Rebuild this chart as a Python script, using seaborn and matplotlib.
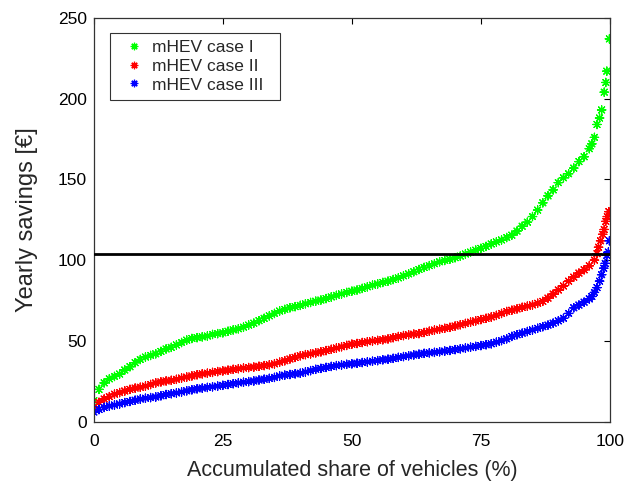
import matplotlib
matplotlib.use("Agg")
import matplotlib.pyplot as plt
import seaborn as sns
import pandas as pd

# ---- data ----
x_case1 = list(range(0, 97)) + [96.5, 97.0, 97.5, 98.0, 98.4, 98.9, 99.2, 99.4, 99.9]
y_case1 = [13, 20, 24, 26.5, 28, 29.5, 32, 34, 36.5, 38.5,
           40, 41, 42, 43.5, 45, 46, 47.5, 49, 50.5, 51.5,
           52, 52.5, 53, 54, 54.5, 55, 56, 56.8, 57.5, 58.5,
           59.8, 61, 62.5, 64, 65.5, 67, 68.5, 69.5, 70.5, 71.2,
           72, 73, 73.8, 74.6, 75.3, 76.2, 77.2, 78.2, 79.1, 80,
           80.8, 81.5, 82.5, 83.5, 84.5, 85.3, 86.2, 87, 88, 89,
           90.3, 91.5, 92.8, 94.2, 95.5, 96.6, 97.8, 99, 99.8, 100.6,
           101.5, 102.5, 103.8, 105, 106.2, 107.3, 108.5, 110, 111.3, 112.5,
           114, 115.5, 118, 121, 123.5, 127, 131, 135.5, 139.8, 143.5,
           148, 151, 153.5, 157, 161, 164, 169,
           172, 176, 184, 188, 193, 204, 210, 217, 237]

x_case2 = list(range(0, 98)) + [97.5, 97.8, 98.2, 98.6, 98.9, 99.2, 99.5, 99.8]
y_case2 = [9, 12, 14, 15.5, 17, 18, 19, 20, 20.8, 21.3,
           22, 23, 24, 24.6, 25.2, 25.6, 26.2, 27, 27.6, 28.3,
           29, 29.6, 30, 30.5, 31, 31.4, 31.9, 32.4, 32.8, 33.2,
           33.5, 33.8, 34.3, 34.7, 35.2, 35.8, 36.8, 37.7, 38.8, 39.8,
           40.8, 41.5, 42, 42.6, 43.2, 44, 44.8, 45.6, 46.4, 47.2,
           48, 48.4, 49, 49.5, 50, 50.3, 50.7, 51.2, 52, 52.7,
           53.3, 53.8, 54.2, 54.5, 55.2, 56, 56.7, 57.2, 57.8, 58.4,
           59.2, 60, 60.8, 61.6, 62.4, 63.2, 64, 64.8, 65.8, 67,
           68.2, 69, 69.8, 70.8, 71.5, 72.3, 73.3, 74.5, 76.5, 79,
           81.5, 84, 87, 89.5, 92, 94, 96.5, 100,
           104, 108, 112, 116, 119, 124, 127, 130]

x_case3 = list(range(0, 97)) + [96.5, 97.0, 97.5, 98.0, 98.4, 98.8, 99.1, 99.4, 99.7, 99.9]
y_case3 = [6, 7.5, 8.8, 9.7, 10.3, 11, 11.8, 12.5, 13.3, 14,
           14.5, 14.9, 15.3, 16, 16.8, 17.3, 17.8, 18.4, 19.1, 19.7,
           20.3, 20.8, 21.2, 21.6, 22, 22.5, 23, 23.5, 24, 24.4,
           24.8, 25.2, 25.8, 26.3, 26.8, 27.4, 28.3, 28.8, 29.2, 29.6,
           30, 30.8, 31.6, 32.4, 33, 33.6, 34.2, 34.7, 35.1, 35.5,
           35.8, 36.2, 36.6, 37, 37.4, 37.8, 38.3, 38.7, 39.2, 39.8,
           40.3, 40.8, 41.3, 41.8, 42.3, 42.6, 42.9, 43.3, 43.7, 44.1,
           44.6, 45.1, 45.6, 46.1, 46.6, 47.1, 47.6, 48.2, 49.2, 50.2,
           51.3, 52.8, 53.8, 54.8, 55.8, 56.8, 57.8, 58.8, 59.8, 61,
           62.4, 64, 67, 70.5, 72.2, 74, 76,
           77.5, 80, 83, 87, 91, 95, 98, 103, 105, 112]

series_names = ["mHEV case I", "mHEV case II", "mHEV case III"]
series_colors = ["#00ff00", "#ff0000", "#0000ff"]
threshold = 104
x_ticks = [0, 25, 50, 75, 100]
y_ticks = [0, 50, 100, 150, 200, 250]

df = pd.concat([
    pd.DataFrame({"share": x_case1, "savings": y_case1, "case": series_names[0]}),
    pd.DataFrame({"share": x_case2, "savings": y_case2, "case": series_names[1]}),
    pd.DataFrame({"share": x_case3, "savings": y_case3, "case": series_names[2]}),
], ignore_index=True)

sns.set_style("white")
plt.rcParams["font.family"] = ["Liberation Sans", "DejaVu Sans"]

fig = plt.figure(figsize=(6.34, 4.83), dpi=100)
ax = fig.add_axes([0.148, 0.127, 0.814, 0.836])

sns.scatterplot(data=df, x="share", y="savings", hue="case",
                palette=dict(zip(series_names, series_colors)),
                marker=(8, 2, 0), s=36, linewidth=0.9, ax=ax, legend=True)

ax.axhline(threshold, color="black", linewidth=2, zorder=5)

ax.set_xlim(0, 100)
ax.set_ylim(0, 250)
ax.set_xticks(x_ticks)
ax.set_yticks(y_ticks)
ax.tick_params(direction="in", length=4, width=0.8, top=True, right=True,
               labelsize=12.5, colors="black")
ax.tick_params(axis="x", pad=9)
ax.tick_params(axis="y", pad=5)
for sp in ax.spines.values():
    sp.set_color("#333333")
    sp.set_linewidth(0.9)

ax.set_xlabel("Accumulated share of vehicles (%)", fontsize=15.5, labelpad=8)
ax.set_ylabel("Yearly savings [€]", fontsize=17, labelpad=14)

leg = ax.legend(loc="upper left", bbox_to_anchor=(0.031, 0.762, 0.329, 0.2),
                mode="expand", frameon=True,
                fontsize=12.5, handlelength=2.0, handletextpad=0.05,
                borderpad=0.4, borderaxespad=0.0,
                labelspacing=0.2, fancybox=False, markerscale=0.9)
leg.get_frame().set_edgecolor("black")
leg.get_frame().set_linewidth(0.8)

fig.savefig("out.png", dpi=100)
